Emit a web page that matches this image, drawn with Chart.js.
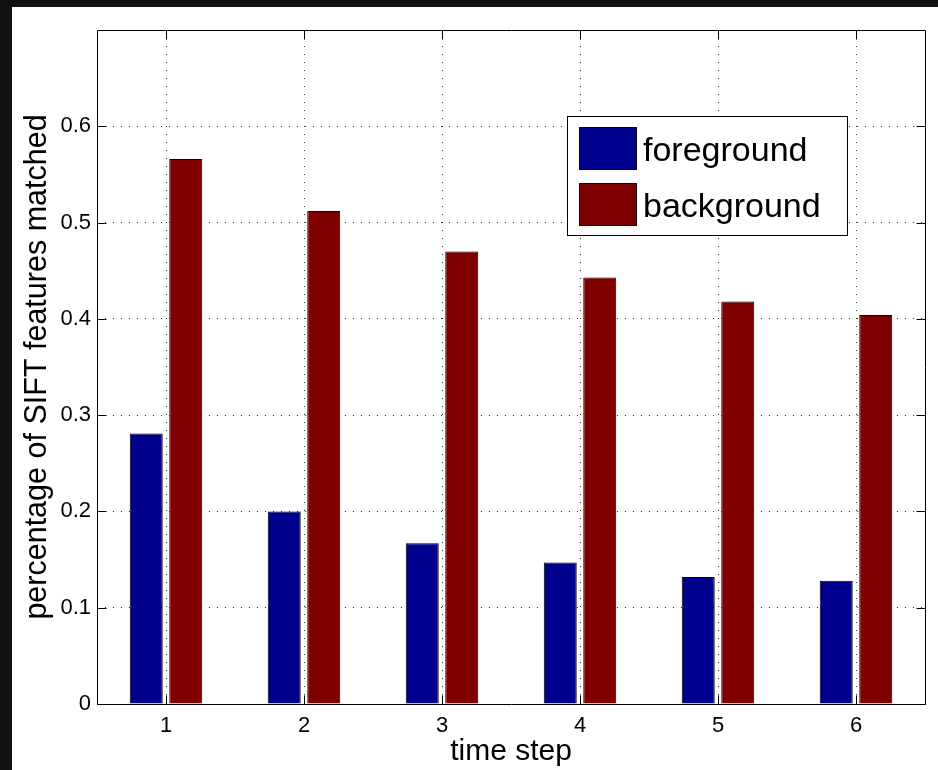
<!DOCTYPE html>
<html>
<head>
<meta charset="utf-8">
<script src="https://cdn.jsdelivr.net/npm/chart.js@4/dist/chart.umd.min.js"></script>
<style>
  html, body { margin: 0; padding: 0; background: #111; }
  #wrap { position: absolute; left: 0; top: 0; width: 938px; height: 770px; }
</style>
</head>
<body>
<div id="wrap"><canvas id="c" width="938" height="770"></canvas></div>
<script>
// Share of SIFT features matched per time step
const timeSteps = ['1', '2', '3', '4', '5', '6'];
const foreground = [0.281, 0.200, 0.167, 0.147, 0.132, 0.128];
const background = [0.566, 0.512, 0.470, 0.443, 0.418, 0.404];
const yTicks = [0, 0.1, 0.2, 0.3, 0.4, 0.5, 0.6];

const FONT = "'Liberation Sans', Arial, Helvetica, sans-serif";

// dark surround with a white figure sheet
const framePlugin = {
  id: 'frame',
  beforeDraw(chart) {
    const ctx = chart.ctx;
    ctx.save();
    ctx.fillStyle = '#111111';
    ctx.fillRect(0, 0, chart.width, chart.height);
    ctx.fillStyle = '#ffffff';
    ctx.fillRect(12, 7, chart.width - 12, chart.height - 7);
    ctx.restore();
  }
};

// axes box with inward tick marks on all four sides
const boxPlugin = {
  id: 'axesBox',
  afterDatasetsDraw(chart) {
    const { ctx, chartArea: a, scales } = chart;
    const L = Math.round(a.left) + 0.5, R = Math.round(a.right) + 0.5;
    const T = Math.round(a.top) + 0.5, B = Math.round(a.bottom) + 0.5;
    const len = 9;
    ctx.save();
    ctx.strokeStyle = '#000';
    ctx.lineWidth = 1;
    ctx.setLineDash([]);
    ctx.beginPath();
    ctx.rect(L, T, R - L, B - T);
    yTicks.forEach(v => {
      const y = Math.round(scales.y.getPixelForValue(v)) + 0.5;
      ctx.moveTo(L, y); ctx.lineTo(L + len, y);
      ctx.moveTo(R, y); ctx.lineTo(R - len, y);
    });
    timeSteps.forEach((_, i) => {
      const x = Math.round(scales.x.getPixelForValue(i)) + 0.5;
      ctx.moveTo(x, B); ctx.lineTo(x, B - len);
      ctx.moveTo(x, T); ctx.lineTo(x, T + len);
    });
    ctx.stroke();
    ctx.restore();
  }
};

// boxed legend inside the axes, upper right
const legendPlugin = {
  id: 'boxLegend',
  afterDraw(chart) {
    const { ctx, chartArea: a } = chart;
    const bx = a.right - 358, by = a.top + 86, bw = 280, bh = 119;
    ctx.save();
    ctx.fillStyle = '#fff';
    ctx.fillRect(bx, by, bw, bh);
    ctx.strokeStyle = '#000';
    ctx.lineWidth = 1;
    ctx.strokeRect(bx + 0.5, by + 0.5, bw, bh);
    ctx.font = '34px ' + FONT;
    ctx.textBaseline = 'middle';
    ctx.textAlign = 'left';
    chart.data.datasets.forEach((ds, i) => {
      const sx = bx + 12, sy = by + 11 + i * 56;
      ctx.fillStyle = ds.backgroundColor;
      ctx.fillRect(sx, sy, 58, 43);
      ctx.strokeStyle = '#000';
      ctx.strokeRect(sx + 0.5, sy + 0.5, 57, 42);
      ctx.fillStyle = '#000';
      ctx.fillText(ds.label, sx + 64, sy + 25);
    });
    ctx.restore();
  }
};

new Chart(document.getElementById('c'), {
  type: 'bar',
  data: {
    labels: timeSteps,
    datasets: [
      { label: 'foreground', data: foreground, backgroundColor: '#00008F', borderColor: '#000', borderWidth: 1 },
      { label: 'background', data: background, backgroundColor: '#800000', borderColor: '#000', borderWidth: 1 }
    ]
  },
  options: {
    responsive: false,
    animation: false,
    devicePixelRatio: 1,
    categoryPercentage: 0.5725,
    barPercentage: 0.835,
    layout: { padding: { left: 0, top: 30, right: 13, bottom: 0 } },
    plugins: { legend: { display: false }, tooltip: { enabled: false } },
    scales: {
      x: {
        type: 'category',
        offset: true,
        grid: { offset: false, drawTicks: false, color: '#333', lineWidth: 1 },
        border: { display: false, dash: [1, 7] },
        ticks: { color: '#000', padding: 9, font: { family: FONT, size: 22 } },
        title: { display: true, text: 'time step', color: '#000', font: { family: FONT, size: 30, lineHeight: 1.2 }, padding: { top: 0, bottom: 0 } },
        afterFit(scale) { scale.height = 66; }
      },
      y: {
        min: 0,
        max: 0.7,
        afterBuildTicks(scale) { scale.ticks = yTicks.map(v => ({ value: v })); },
        grid: { drawTicks: false, color: '#333', lineWidth: 1 },
        border: { display: false, dash: [1, 7] },
        ticks: {
          color: '#000', padding: 6, font: { family: FONT, size: 22 },
          callback: v => (v === 0 ? '0' : v.toFixed(1))
        },
        title: { display: true, text: 'percentage of SIFT features matched', color: '#000', font: { family: FONT, size: 30.5, lineHeight: 1.2 }, padding: { top: 19, bottom: 0 } },
        afterFit(scale) { scale.width = 97; }
      }
    }
  },
  plugins: [framePlugin, boxPlugin, legendPlugin]
});
</script>
</body>
</html>
